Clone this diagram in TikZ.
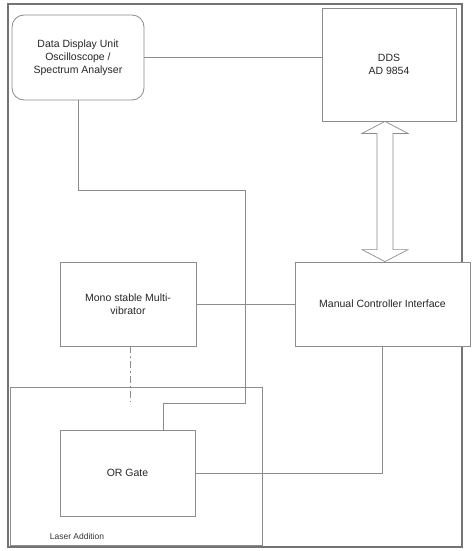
\documentclass[tikz,border=0pt]{standalone}
\usepackage{fontspec}
\setmainfont{Liberation Sans}
\begin{document}
\begin{tikzpicture}[x=1pt,y=-1pt,
  line/.style={draw=black!45, line width=0.8pt},
  blk/.style={line, fill=white, rectangle, align=center, inner sep=2pt,
    font=\fontsize{10.5}{13}\selectfont, text=black!85},
  frame/.style={draw=black!55, line width=1.1pt}]
\useasboundingbox (0,0) rectangle (472,551);
% outer frame
\draw[frame] (8,4) rectangle (462,547);
% laser addition area
\draw[line] (10,387) rectangle (262,545);
\node[font=\fontsize{8.5}{10}\selectfont, text=black!80] (laser) at (77,536) {Laser Addition};
% blocks
\node[blk, rounded corners=12pt, minimum width=132pt, minimum height=85pt] (disp) at (78,57.5)
  {Data Display Unit\\Oscilloscope /\\Spectrum Analyser};
\node[blk, minimum width=134pt, minimum height=113pt] (dds) at (389,64.5) {DDS\\AD 9854};
\node[blk, minimum width=136pt, minimum height=84pt] (mono) at (128,304) {Mono stable Multi-\\vibrator};
\node[blk, minimum width=175pt, minimum height=84pt] (mci) at (382.5,304) {Manual Controller Interface};
\node[blk, minimum width=135pt, minimum height=86pt] (orgate) at (127.5,473) {OR Gate};
% connectors
\draw[line] (disp.east) -- (disp.east -| dds.west);
\coordinate (c1) at (245,190);
\coordinate (c2) at (163,403);
\draw[line] (disp.south) |- (c1) |- (c2) -- (c2 |- orgate.north);
\draw[line] (mono.east) -- (mci.west);
\coordinate (d1) at (130,402);
\draw[line, dash pattern=on 7pt off 3pt on 2pt off 3pt] (mono.south -| d1) -- (d1);
\draw[line] (orgate.east) -| (mci.south);
% double arrow between DDS and manual controller
\coordinate (ta) at (385,0 |- dds.south);
\coordinate (tb) at (385,0 |- mci.north);
\draw[line, line width=0.7pt, fill=white]
  (ta) -- ([xshift=23pt,yshift=-12pt]ta) -- ([xshift=8pt,yshift=-12pt]ta)
  -- ([xshift=8pt,yshift=12pt]tb) -- ([xshift=23pt,yshift=12pt]tb) -- (tb)
  -- ([xshift=-23pt,yshift=12pt]tb) -- ([xshift=-8pt,yshift=12pt]tb)
  -- ([xshift=-8pt,yshift=-12pt]ta) -- ([xshift=-23pt,yshift=-12pt]ta) -- cycle;
\end{tikzpicture}
\end{document}
